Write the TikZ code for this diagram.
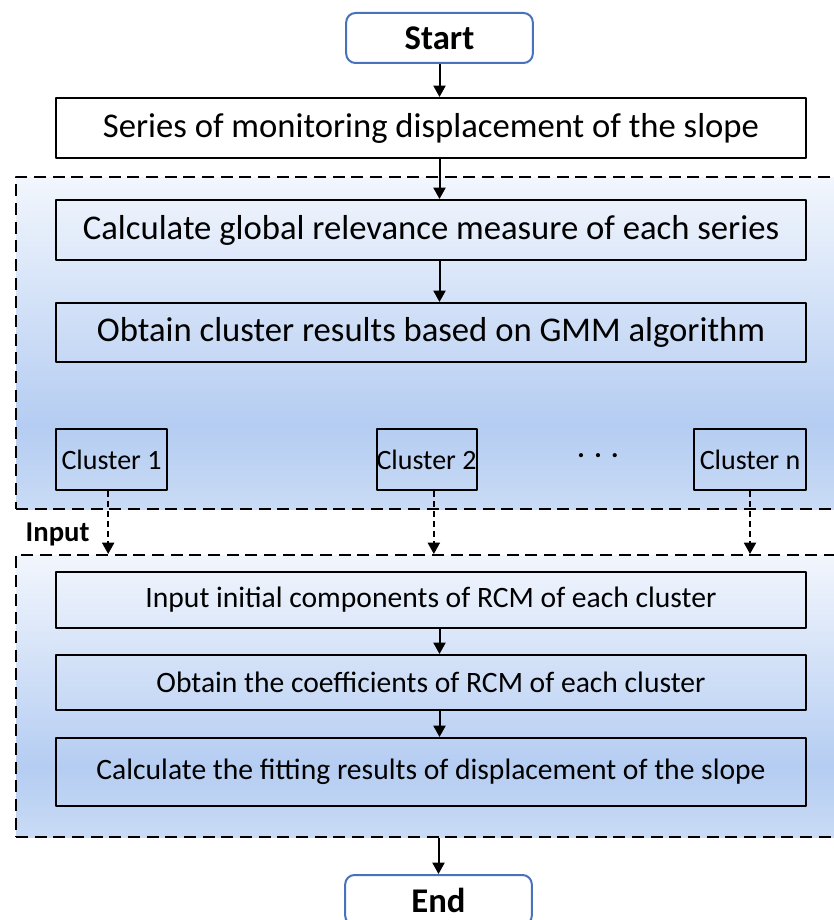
\documentclass[tikz,border=0pt]{standalone}
\usepackage{fontspec}
\setmainfont{Carlito}
\usetikzlibrary{arrows.meta}
\definecolor{termblue}{RGB}{72,114,186}
\definecolor{panelpale}{RGB}{242,246,253}
\definecolor{paneldeep}{RGB}{181,205,242}
\definecolor{panelfoot}{RGB}{201,219,245}
\pgfdeclareverticalshading{panelshade}{100bp}{%
  color(0bp)=(panelfoot); color(25bp)=(panelfoot);
  color(37.5bp)=(paneldeep);
  color(75bp)=(panelpale); color(100bp)=(panelpale)}

\begin{document}
\begin{tikzpicture}[
    x=0.75pt, y=-0.75pt,
    >={Triangle[length=8.5pt,width=9pt]},
    line join=round,
    termbox/.style={draw=termblue, line width=1.5pt, rounded corners=7pt,
        fill=white, minimum width=140pt, minimum height=37.5pt,
        font=\fontsize{26}{30}\selectfont\bfseries},
    stepbox/.style={draw, line width=1.5pt, minimum width=562.5pt,
        font=\fontsize{26}{30}\selectfont},
    substep/.style={stepbox, font=\fontsize{22.2}{26}\selectfont},
    clusbox/.style={draw, line width=1.5pt, inner sep=0pt, minimum height=45.75pt,
        font=\fontsize{21}{25}\selectfont},
    panel/.style={draw, dashed, dash pattern=on 9pt off 5pt, line width=1.5pt,
        shading=panelshade, minimum width=621.75pt},
    flow/.style={->, line width=1.5pt},
    feed/.style={->, line width=1.5pt, dash pattern=on 4.5pt off 3pt},
]
\useasboundingbox (0,0) rectangle (833,920);

% ── Shaded panels ───────────────────────────────────────────────────────────
\node[panel, minimum height=249pt]   (upper) at (430.5,343) {};
\node[panel, minimum height=211.5pt] (lower) at (430.5,696) {};

% ── Terminals ───────────────────────────────────────────────────────────────
\node[termbox] (start) at (439.5,38)  {Start};
\node[termbox] (end)   at (438.5,900) {End};

% ── Clustering steps ────────────────────────────────────────────────────────
\node[stepbox, fill=white, minimum height=45pt] (series) at (431,128)
    {Series of monitoring displacement of the slope};
\node[stepbox, minimum height=45pt]    (relev) at (431,230)
    {Calculate global relevance measure of each series};
\node[stepbox, minimum height=44.25pt] (gmm)   at (431,332.5)
    {Obtain cluster results based on GMM algorithm};

% Cluster boxes
\node[clusbox, minimum width=83.25pt] (clus1) at (111.5,459.5) {Cluster 1};
\node[clusbox, minimum width=72.75pt] (clus2) at (426.5,459.5) {Cluster 2};
\node[clusbox, minimum width=84pt]    (clusn) at (750,459.5)   {Cluster n};
\node[font=\fontsize{21}{25}\selectfont\bfseries] (dots) at (598,456) {.\,\,.\,\,.};

% ── Fitting steps ───────────────────────────────────────────────────────────
\node[substep, minimum height=42pt]    (rcmin)  at (431,600)   {Input initial components of RCM of each cluster};
\node[substep, minimum height=41.25pt] (rcmco)  at (431,682.5) {Obtain the coefficients of RCM of each cluster};
\node[substep, minimum height=51pt]    (rcmfit) at (431,772)   {Calculate the fitting results of displacement of the slope};

\node[font=\fontsize{21.5}{25}\selectfont\bfseries, anchor=west] (inlbl) at (21,534) {Input};

% ── Solid arrows ────────────────────────────────────────────────────────────
\draw[flow] (start.south) -- (start.south |- series.north);
\draw[flow] (series.south -| start) -- (relev.north -| start);
\draw[flow] (relev.south -| start) -- (gmm.north -| start);
\draw[flow] (rcmin.south -| start) -- (rcmco.north -| start);
\draw[flow] (rcmco.south -| start) -- (rcmfit.north -| start);
\draw[flow] (lower.south -| end) -- (end.north);

% ── Dashed inputs ───────────────────────────────────────────────────────────
\draw[feed] ([xshift=-2.5pt]clus1.south) -- ([xshift=-2.5pt]clus1.south |- lower.north);
\draw[feed] ([xshift=5.5pt]clus2.south)  -- ([xshift=5.5pt]clus2.south |- lower.north);
\draw[feed] (clusn.south) -- (clusn.south |- lower.north);

\end{tikzpicture}
\end{document}
